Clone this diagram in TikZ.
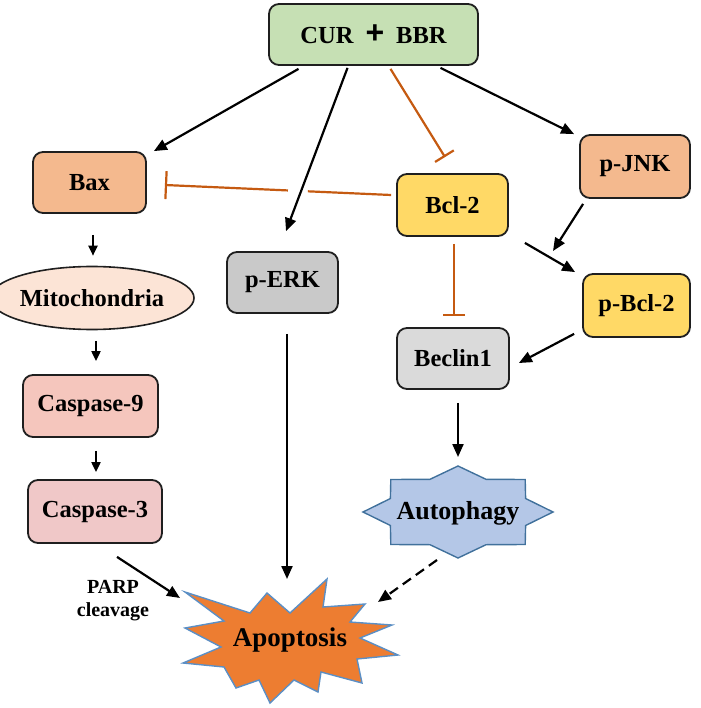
\documentclass[tikz,border=0pt]{standalone}
\usepackage{fontspec}
\setmainfont{Liberation Serif}
\newfontfamily\plusfont{Liberation Sans}
\usetikzlibrary{arrows.meta,shapes.geometric,calc}
\definecolor{curcol}{HTML}{C6E0B4}
\definecolor{baxcol}{HTML}{F4B98E}
\definecolor{bclcol}{HTML}{FFD966}
\definecolor{erkcol}{HTML}{C9C9C9}
\definecolor{beccol}{HTML}{DADADA}
\definecolor{mitocol}{HTML}{FCE4D6}
\definecolor{casnine}{HTML}{F5C6BD}
\definecolor{casthree}{HTML}{F0C8C8}
\definecolor{apocol}{HTML}{ED7D31}
\definecolor{apoline}{HTML}{5B8FC5}
\definecolor{autcol}{HTML}{B4C7E7}
\definecolor{autline}{HTML}{41719C}
\definecolor{inhcol}{HTML}{C55A11}
\begin{document}
\begin{tikzpicture}[x=1pt,y=-1pt,
  box/.style={draw=black!88, line width=1.8pt, rounded corners=10pt, inner sep=0pt,
    font=\fontsize{24.5}{27}\selectfont\bfseries},
  act/.style={-{Triangle[length=13pt,width=11pt]}, line width=2.2pt},
  sact/.style={-{Triangle[length=10pt,width=9pt]}, line width=2pt},
  inh/.style={-{Bar[width=22pt,line width=2.2pt]}, draw=inhcol, line width=2.2pt},
  lbl/.style={font=\fontsize{24}{26}\selectfont\bfseries, inner sep=0pt},
]
\useasboundingbox (0,0) rectangle (700,708);

% boxes
\node[box, fill=curcol, minimum width=209pt, minimum height=61pt] (cur) at (373.5,34.5)
  {CUR\hspace{12pt}{\plusfont\bfseries\fontsize{32}{32}\selectfont +}\hspace{12pt}BBR};
\node[box, fill=baxcol, minimum width=113pt, minimum height=61pt] (bax) at (89.5,182.5) {Bax};
\node[box, fill=bclcol, minimum width=111pt, minimum height=62pt] (bcl2) at (452.5,205) {Bcl-2};
\node[box, fill=baxcol, minimum width=110pt, minimum height=63pt] (pjnk) at (635,166.5) {p-JNK};
\node[box, fill=bclcol, minimum width=107pt, minimum height=63pt] (pbcl2) at (636.5,305.5) {p-Bcl-2};
\node[box, fill=beccol, minimum width=112pt, minimum height=61pt] (beclin) at (453,358.5) {Beclin1};
\node[box, fill=erkcol, minimum width=111pt, minimum height=61pt] (perk) at (282.5,282.5) {p-ERK};
\node[box, ellipse, rounded corners=0pt, line width=1.6pt, fill=mitocol, minimum width=179pt, minimum height=63pt] (mito) at (92,298) {Mitochondria};
\node[box, fill=casnine, minimum width=135pt, minimum height=62pt] (casp9) at (90.5,406) {Caspase-9};
\node[box, fill=casthree, minimum width=134pt, minimum height=63pt] (casp3) at (95,511.5) {Caspase-3};

% Autophagy star
\draw[fill=autcol, draw=autline, line width=1.4pt]
  (553,512) -- (525.6,525.5) -- (525.2,544.5) -- (486,544.7) -- (458,558) -- (430,544.7)
  -- (390.8,544.5) -- (390.4,525.5) -- (363,512) -- (390.4,498.5) -- (390.8,479.5)
  -- (430,479.3) -- (458,466) -- (486,479.3) -- (525.2,479.5) -- (525.6,498.5) -- cycle;
\node[lbl, font=\fontsize{26}{28}\selectfont\bfseries] (auto) at (458,513) {Autophagy};

% Apoptosis explosion
\draw[fill=apocol, draw=apoline, line width=1.4pt]
  (185,592) -- (250,613) -- (267,593) -- (290,613) -- (327,579) -- (323,607)
  -- (365,604) -- (350,622) -- (392,625) -- (360,638) -- (398,655) -- (357,659)
  -- (362,683) -- (321,672) -- (318,692) -- (294,680) -- (270,703) -- (259,680)
  -- (236,688) -- (224,667) -- (183,663) -- (221,647) -- (185,628) -- (224,621) -- cycle;
\node[lbl, font=\fontsize{27}{29}\selectfont\bfseries] (apop) at (290,640) {Apoptosis};

% PARP label
\node[align=center, inner sep=0pt, font=\fontsize{20}{23}\selectfont\bfseries] (parp) at (113,601) {PARP\\cleavage};

% connectors from CUR+BBR
\draw[act] ([xshift=-75pt,yshift=-3pt]cur.south) -- ([xshift=7pt]bax.north east);
\draw[act] ([xshift=-26pt,yshift=-2pt]cur.south) -- ([xshift=3.5pt,yshift=20pt]perk.north);
\draw[inh] ([xshift=17pt,yshift=-3pt]cur.south) -- ([xshift=-7.5pt,yshift=16pt]bcl2.north);
\draw[act] ([xshift=67pt,yshift=-2pt]cur.south) -- ([xshift=-5pt]pjnk.north west);

% Bcl-2 inhibits Bax (with a gap where the p-ERK arrow crosses)
\coordinate (bclw) at ([xshift=-5pt,yshift=10pt]bcl2.west);
\coordinate (baxe) at ([xshift=18pt,yshift=-2.5pt]bax.east);
\draw[draw=inhcol, line width=2.2pt] (bclw) -- ($(bclw)!0.368!(baxe)$);
\draw[inh, -{Bar[width=28pt,line width=2.2pt]}] ($(bclw)!0.456!(baxe)$) -- (baxe);

% Bcl-2 inhibits Beclin1
\draw[inh] ([xshift=1.5pt,yshift=-7pt]bcl2.south) -- ([xshift=1pt,yshift=11pt]beclin.north);

% p-JNK, Bcl-2, p-Bcl-2
\coordinate (jnkend) at (553,251);
\draw[act] ([xshift=4pt,yshift=-5pt]pjnk.south west) -- (jnkend);
\draw[act] ([xshift=16pt,yshift=-6pt]bcl2.south east) -- ([xshift=-7pt,yshift=1pt]pbcl2.north west);
\draw[act] ([xshift=-8pt,yshift=4pt]pbcl2.south west) -- ([xshift=9pt,yshift=-4.5pt]beclin.east);

% Beclin1 -> Autophagy -> Apoptosis
\draw[act] ([xshift=5pt,yshift=-13pt]beclin.south) -- ([yshift=56pt]auto.center);
\draw[act, dash pattern=on 10pt off 6pt] ([xshift=-21pt,yshift=-47pt]auto.center) -- ([xshift=88pt,yshift=38pt]apop.center);

% p-ERK -> Apoptosis
\draw[act] ([xshift=4.5pt,yshift=-20pt]perk.south) -- ([xshift=-3pt,yshift=61pt]apop.center);

% left column
\draw[sact] ([xshift=3.5pt,yshift=-21pt]bax.south) -- ([xshift=1pt,yshift=10pt]mito.north);
\draw[sact] ([xshift=4pt,yshift=-10.5pt]mito.south) -- ([xshift=5.5pt,yshift=13pt]casp9.north);
\draw[sact] ([xshift=5.5pt,yshift=-13pt]casp9.south) -- ([xshift=1pt,yshift=7pt]casp3.north);
\draw[act] ([xshift=22pt,yshift=-13pt]casp3.south) -- ([xshift=-110pt,yshift=42pt]apop.center);
\end{tikzpicture}
\end{document}
